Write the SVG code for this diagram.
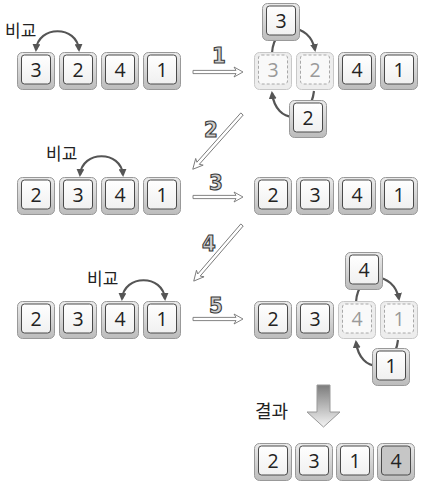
<svg xmlns="http://www.w3.org/2000/svg" xmlns:xlink="http://www.w3.org/1999/xlink" width="421" height="490" viewBox="0 0 421 490">
<style>
.ko{fill:url(#kg);stroke:#999;stroke-width:1}
.ki{fill:url(#kin);stroke:#4a4a4a;stroke-width:1}
.kt{font-family:"Open Sans","Noto Sans",sans-serif;font-size:19.5px;fill:#222;text-anchor:middle}
.do{fill:#ededed;stroke:#c8c8c8;stroke-width:1}
.di{fill:#f9f9f9;stroke:#a8a8a8;stroke-width:1;stroke-dasharray:3 2}
.dt{font-family:"Open Sans","Noto Sans",sans-serif;font-size:19.5px;fill:#9a9a9a;text-anchor:middle}
.hi{fill:#c6c6c6;stroke:#4a4a4a;stroke-width:1}
.lbl{font-family:"Noto Sans CJK KR","Noto Sans",sans-serif;font-size:17px;fill:#222}
.cmp{fill:none;stroke:#555;stroke-width:2.2;marker-start:url(#ah);marker-end:url(#ah)}
.swp{fill:none;stroke:#555;stroke-width:2.2;marker-end:url(#ah)}
.step{fill:#fff;stroke:#777;stroke-width:0.9}
.num{font-family:"DejaVu Sans",sans-serif;font-stretch:condensed;font-weight:bold;font-size:22px;fill:#cfcfcf;stroke:#3a3a3a;stroke-width:1.1;text-anchor:middle}
</style>
<defs>
<linearGradient id="kg" x1="0" y1="0" x2="0" y2="1"><stop offset="0" stop-color="#ebebeb"/><stop offset="1" stop-color="#bcbcbc"/></linearGradient>
<linearGradient id="kin" x1="0" y1="0" x2="0" y2="1"><stop offset="0" stop-color="#ffffff"/><stop offset="1" stop-color="#f0f0f0"/></linearGradient>
<linearGradient id="dg" x1="0" y1="0" x2="0" y2="1"><stop offset="0" stop-color="#7c7c7c"/><stop offset="1" stop-color="#f4f4f4"/></linearGradient>
<marker id="ah" viewBox="0 0 8 8" refX="6" refY="4" markerWidth="8" markerHeight="8" markerUnits="userSpaceOnUse" orient="auto-start-reverse"><path d="M0,0 L8,4 L0,8 z" fill="#555"/></marker>
<path id="harrow" class="step" d="M0,-1.6 H43 L41,-5 L50,0 L41,5 L43,1.6 H0 Z"/>
<path id="darrow" class="step" d="M0,-1.6 H66 L64,-5 L74,0 L64,5 L66,1.6 H0 Z"/>
<g id="key"><rect class="ko" x="0.5" y="0.5" width="37" height="37" rx="5"/><rect class="ki" x="4.5" y="3" width="29" height="29" rx="3"/></g>
<g id="dkey"><rect class="do" x="0.5" y="0.5" width="37" height="37" rx="5"/><rect class="di" x="4.5" y="3" width="29" height="29" rx="3"/></g>
</defs>

<g id="connectors">
<path class="cmp" d="M36,50 C38,25 77,25 79,50"/>
<path class="cmp" d="M80,175 C82,150 121,150 123,175"/>
<path class="cmp" d="M122,299 C124,274 163,274 165,299"/>
<path class="swp" d="M272,53 C274,20 310,22 315,50"/>
<path class="swp" d="M314,91 C310,125 276,125 272,93"/>
<path class="swp" d="M356,302 C358,269 394,271 399,299"/>
<path class="swp" d="M398,340 C394,374 360,374 356,342"/>
<use href="#harrow" transform="translate(193,72)"/>
<use href="#darrow" transform="translate(242,114) rotate(131.7)"/>
<use href="#harrow" transform="translate(193,197)"/>
<use href="#darrow" transform="translate(242,225) rotate(130.7)"/>
<use href="#harrow" transform="translate(193,319)"/>
<polygon points="317,385 330,385 330,412 340,412 323.5,427 307,412 317,412" fill="url(#dg)" stroke="#999" stroke-width="1"/>
</g>

<g id="labels">
<text class="lbl" x="5" y="37">비교</text>
<text class="lbl" x="46" y="160">비교</text>
<text class="lbl" x="87" y="285">비교</text>
<text class="lbl" x="255" y="418" style="font-size:18px">결과</text>
<text class="num" x="219" y="63">1</text>
<text class="num" x="211" y="137">2</text>
<text class="num" x="216" y="190">3</text>
<text class="num" x="209" y="251">4</text>
<text class="num" x="216" y="313">5</text>
</g>

<!-- row 1 left -->
<g id="r1a" transform="translate(17,52)"><use href="#key"/><text class="kt" x="19" y="24.5">3</text></g>
<g id="r1b" transform="translate(59,52)"><use href="#key"/><text class="kt" x="19" y="24.5">2</text></g>
<g id="r1c" transform="translate(101,52)"><use href="#key"/><text class="kt" x="19" y="24.5">4</text></g>
<g id="r1d" transform="translate(143,52)"><use href="#key"/><text class="kt" x="19" y="24.5">1</text></g>
<!-- row 1 right -->
<g id="s1a" transform="translate(254,52)"><use href="#dkey"/><text class="dt" x="19" y="24.5">3</text></g>
<g id="s1b" transform="translate(296,52)"><use href="#dkey"/><text class="dt" x="19" y="24.5">2</text></g>
<g id="s1c" transform="translate(338,52)"><use href="#key"/><text class="kt" x="19" y="24.5">4</text></g>
<g id="s1d" transform="translate(380,52)"><use href="#key"/><text class="kt" x="19" y="24.5">1</text></g>
<g id="s1up" transform="translate(262,3)"><use href="#key"/><text class="kt" x="19" y="24.5">3</text></g>
<g id="s1dn" transform="translate(289,100)"><use href="#key"/><text class="kt" x="19" y="24.5">2</text></g>
<!-- row 2 left -->
<g id="r2a" transform="translate(17,177)"><use href="#key"/><text class="kt" x="19" y="24.5">2</text></g>
<g id="r2b" transform="translate(59,177)"><use href="#key"/><text class="kt" x="19" y="24.5">3</text></g>
<g id="r2c" transform="translate(101,177)"><use href="#key"/><text class="kt" x="19" y="24.5">4</text></g>
<g id="r2d" transform="translate(143,177)"><use href="#key"/><text class="kt" x="19" y="24.5">1</text></g>
<!-- row 2 right -->
<g id="s2a" transform="translate(254,177)"><use href="#key"/><text class="kt" x="19" y="24.5">2</text></g>
<g id="s2b" transform="translate(296,177)"><use href="#key"/><text class="kt" x="19" y="24.5">3</text></g>
<g id="s2c" transform="translate(338,177)"><use href="#key"/><text class="kt" x="19" y="24.5">4</text></g>
<g id="s2d" transform="translate(380,177)"><use href="#key"/><text class="kt" x="19" y="24.5">1</text></g>
<!-- row 3 left -->
<g id="r3a" transform="translate(17,301)"><use href="#key"/><text class="kt" x="19" y="24.5">2</text></g>
<g id="r3b" transform="translate(59,301)"><use href="#key"/><text class="kt" x="19" y="24.5">3</text></g>
<g id="r3c" transform="translate(101,301)"><use href="#key"/><text class="kt" x="19" y="24.5">4</text></g>
<g id="r3d" transform="translate(143,301)"><use href="#key"/><text class="kt" x="19" y="24.5">1</text></g>
<!-- row 3 right -->
<g id="s3a" transform="translate(254,301)"><use href="#key"/><text class="kt" x="19" y="24.5">2</text></g>
<g id="s3b" transform="translate(296,301)"><use href="#key"/><text class="kt" x="19" y="24.5">3</text></g>
<g id="s3c" transform="translate(338,301)"><use href="#dkey"/><text class="dt" x="19" y="24.5">4</text></g>
<g id="s3d" transform="translate(380,301)"><use href="#dkey"/><text class="dt" x="19" y="24.5">1</text></g>
<g id="s3up" transform="translate(345,252)"><use href="#key"/><text class="kt" x="19" y="24.5">4</text></g>
<g id="s3dn" transform="translate(372,348)"><use href="#key"/><text class="kt" x="19" y="24.5">1</text></g>
<!-- result -->
<g id="res1" transform="translate(254,443)"><use href="#key"/><text class="kt" x="19" y="24.5">2</text></g>
<g id="res2" transform="translate(295,443)"><use href="#key"/><text class="kt" x="19" y="24.5">3</text></g>
<g id="res3" transform="translate(336,443)"><use href="#key"/><text class="kt" x="19" y="24.5">1</text></g>
<g id="res4" transform="translate(377,443)"><rect class="ko" x="0.5" y="0.5" width="37" height="37" rx="5"/><rect class="hi" x="4.5" y="3" width="29" height="29" rx="3"/><text class="kt" x="19" y="24.5">4</text></g>
</svg>
